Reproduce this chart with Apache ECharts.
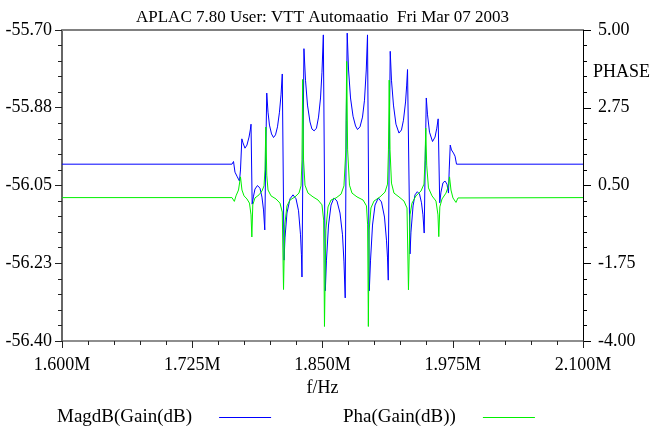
<!DOCTYPE html>
<html>
<head>
<meta charset="utf-8">
<script src="https://cdn.jsdelivr.net/npm/echarts@6/dist/echarts.min.js"></script>
<style>
html,body{margin:0;padding:0;background:#fff;}
#chart{width:658px;height:429px;}
</style>
</head>
<body>
<div id="chart"></div>
<script>
// ---- data (frequency in MHz, magnitude in dB, phase) ----
const magPoints = [
 [1.6000,-56.002],[1.7631,-56.002],[1.7646,-55.996],[1.7660,-56.020],[1.7679,-56.029],[1.7703,-56.040],[1.7713,-56.015],[1.7726,-55.945],[1.7737,-55.954],[1.7756,-55.966],
 [1.7775,-55.959],[1.7795,-55.941],[1.7807,-55.925],[1.7814,-55.912],[1.7825,-56.092],[1.7838,-56.074],[1.7852,-56.058],[1.7876,-56.050],[1.7900,-56.056],[1.7919,-56.076],
 [1.7934,-56.105],[1.7946,-56.150],[1.7956,-55.970],[1.7965,-55.842],[1.7977,-55.885],[1.7991,-55.914],[1.8011,-55.934],[1.8030,-55.942],[1.8049,-55.936],[1.8068,-55.918],
 [1.8087,-55.885],[1.8102,-55.846],[1.8114,-55.799],[1.8131,-56.218],[1.8140,-56.168],[1.8159,-56.112],[1.8188,-56.080],[1.8217,-56.071],[1.8246,-56.080],[1.8270,-56.107],
 [1.8289,-56.161],[1.8298,-56.206],[1.8303,-56.256],[1.8313,-55.970],[1.8322,-55.742],[1.8337,-55.813],[1.8356,-55.869],[1.8380,-55.907],[1.8399,-55.923],[1.8420,-55.927],
 [1.8442,-55.921],[1.8462,-55.896],[1.8481,-55.853],[1.8495,-55.795],[1.8508,-55.711],[1.8527,-56.287],[1.8538,-56.218],[1.8558,-56.139],[1.8582,-56.094],[1.8610,-56.078],
 [1.8639,-56.085],[1.8668,-56.112],[1.8692,-56.161],[1.8706,-56.222],[1.8718,-56.303],[1.8728,-55.903],[1.8737,-55.707],[1.8750,-55.790],[1.8769,-55.853],[1.8793,-55.894],
 [1.8817,-55.916],[1.8836,-55.924],[1.8860,-55.918],[1.8884,-55.896],[1.8903,-55.858],[1.8920,-55.790],[1.8932,-55.711],[1.8949,-56.287],[1.8961,-56.218],[1.8980,-56.139],
 [1.9004,-56.094],[1.9036,-56.078],[1.9066,-56.087],[1.9095,-56.121],[1.9114,-56.173],[1.9124,-56.213],[1.9131,-56.263],[1.9140,-55.970],[1.9150,-55.748],[1.9162,-55.813],
 [1.9181,-55.869],[1.9205,-55.912],[1.9234,-55.932],[1.9258,-55.925],[1.9277,-55.903],[1.9297,-55.862],[1.9308,-55.824],[1.9316,-55.789],[1.9340,-56.204],[1.9349,-56.155],
 [1.9369,-56.096],[1.9388,-56.071],[1.9410,-56.064],[1.9431,-56.069],[1.9450,-56.089],[1.9464,-56.116],[1.9476,-56.157],[1.9486,-55.993],[1.9496,-55.853],[1.9508,-55.891],
 [1.9527,-55.930],[1.9556,-55.951],[1.9580,-55.941],[1.9597,-55.921],[1.9610,-55.900],[1.9625,-56.089],[1.9637,-56.065],[1.9656,-56.044],[1.9676,-56.040],[1.9695,-56.047],
 [1.9709,-56.067],[1.9716,-56.015],[1.9726,-55.959],[1.9738,-55.970],[1.9757,-55.977],[1.9772,-55.984],[1.9786,-56.002],[2.1000,-56.002]
];
const phaPoints = [
 [1.6000,0.15],[1.7631,0.15],[1.7654,0.04],[1.7670,0.20],[1.7694,0.37],[1.7713,0.75],[1.7727,0.37],[1.7747,0.20],[1.7775,0.11],[1.7799,-0.01],
 [1.7814,-0.35],[1.7822,-0.99],[1.7831,-0.06],[1.7852,0.14],[1.7891,0.23],[1.7919,0.34],[1.7939,0.49],[1.7948,0.95],[1.7956,2.19],[1.7965,0.80],
 [1.7977,0.37],[1.8006,0.20],[1.8054,0.11],[1.8092,-0.01],[1.8114,-0.27],[1.8126,-2.51],[1.8138,-0.64],[1.8159,-0.09],[1.8188,0.08],[1.8236,0.17],
 [1.8274,0.28],[1.8294,0.49],[1.8303,1.24],[1.8310,3.57],[1.8318,1.24],[1.8332,0.51],[1.8361,0.28],[1.8409,0.17],[1.8457,0.08],[1.8495,-0.06],
 [1.8511,-0.50],[1.8519,-3.58],[1.8532,-0.79],[1.8553,-0.12],[1.8582,0.08],[1.8630,0.14],[1.8678,0.25],[1.8706,0.49],[1.8724,1.53],[1.8732,4.09],
 [1.8741,1.53],[1.8759,0.51],[1.8783,0.28],[1.8831,0.17],[1.8889,0.08],[1.8922,-0.09],[1.8933,-0.64],[1.8940,-3.58],[1.8948,-0.79],[1.8965,-0.15],
 [1.8994,0.05],[1.9052,0.17],[1.9100,0.31],[1.9124,0.54],[1.9133,1.53],[1.9140,3.55],[1.9148,1.53],[1.9162,0.57],[1.9186,0.28],[1.9234,0.17],
 [1.9282,0.05],[1.9311,-0.15],[1.9325,-2.52],[1.9340,-0.35],[1.9359,-0.01],[1.9397,0.20],[1.9445,0.34],[1.9474,0.54],[1.9484,1.24],[1.9491,2.16],
 [1.9500,1.09],[1.9517,0.43],[1.9551,0.20],[1.9589,0.05],[1.9608,-0.35],[1.9616,-0.98],[1.9626,-0.12],[1.9647,0.11],[1.9685,0.28],[1.9709,0.49],
 [1.9719,0.75],[1.9733,0.37],[1.9752,0.14],[1.9781,0.01],[1.9800,0.14],[2.1000,0.15]
];
const xTickLabels = ['1.600M','1.725M','1.850M','1.975M','2.100M'];
const magTickLabels = ['-56.40','-56.23','-56.05','-55.88','-55.70'];
const phaTickLabels = ['-4.00','-1.75','0.50','2.75','5.00'];
const seriesNames = ['MagdB(Gain(dB)','Pha(Gain(dB))'];
const seriesColors = ['#0000ff', '#00f000'];
const titleText = 'APLAC 7.80 User: VTT Automaatio  Fri Mar 07 2003';

const FONT = 'Liberation Serif';
const FS = 18;
function lab(arr, min, step) {
  return function (v) { const i = Math.round((v - min) / step); return arr[i] !== undefined ? arr[i] : ''; };
}
function legendFor(i, left) {
  return {left: left, top: 408, padding: 0, align: 'right', selectedMode: false,
    data: [{name: seriesNames[i], icon: 'rect', itemStyle: {color: seriesColors[i], borderWidth: 0}}],
    itemWidth: 52, itemHeight: 1.2,
    textStyle: {fontFamily: FONT, fontSize: 19, color: '#000', padding: [0, 22, 0, 0]}};
}

const chart = echarts.init(document.getElementById('chart'), null, {renderer: 'canvas'});
chart.setOption({
  animation: false,
  backgroundColor: '#ffffff',
  grid: {left: 62, right: 75, top: 30, bottom: 88, containLabel: false},
  graphic: [
    {type: 'text', x: 322.5, y: 18, style: {text: titleText, x: 0, y: 0, align: 'center', verticalAlign: 'middle', fill: '#000', font: '17px "' + FONT + '"'}},
    {type: 'text', x: 593, y: 72, style: {text: 'PHASE', x: 0, y: 0, align: 'left', verticalAlign: 'middle', fill: '#000', font: '18px "' + FONT + '"'}}
  ],
  legend: [legendFor(0, 57), legendFor(1, 343)],
  xAxis: [
    {type: 'value', position: 'bottom', min: 1.6, max: 2.1, interval: 0.125,
     name: 'f/Hz', nameLocation: 'middle', nameGap: 34, nameTextStyle: {fontFamily: FONT, fontSize: FS, color: '#000'},
     axisLine: {show: true, onZero: false, lineStyle: {color: '#6a6a6a', width: 1.5}},
     axisTick: {show: true, inside: false, length: 7, lineStyle: {color: '#222', width: 1}},
     minorTick: {show: true, splitNumber: 5, length: 4, lineStyle: {color: '#222', width: 1}},
     splitLine: {show: false}, minorSplitLine: {show: false},
     axisLabel: {margin: 15, color: '#000', fontFamily: FONT, fontSize: FS, formatter: lab(xTickLabels, 1.6, 0.125)}},
    {type: 'value', position: 'top', min: 1.6, max: 2.1,
     axisLine: {show: true, onZero: false, lineStyle: {color: '#808080', width: 2}},
     axisTick: {show: false}, axisLabel: {show: false}, splitLine: {show: false}}
  ],
  yAxis: [
    {type: 'value', position: 'left', min: -56.4, max: -55.7, interval: 0.175,
     axisLine: {show: true, onZero: false, lineStyle: {color: '#333', width: 1.5}},
     axisTick: {show: true, inside: false, length: 7, lineStyle: {color: '#222', width: 1}},
     minorTick: {show: true, splitNumber: 5, length: 4, lineStyle: {color: '#222', width: 1}},
     splitLine: {show: false}, minorSplitLine: {show: false},
     axisLabel: {margin: 10, color: '#000', fontFamily: FONT, fontSize: FS, formatter: lab(magTickLabels, -56.4, 0.175)}},
    {type: 'value', position: 'right', min: -4, max: 5, interval: 2.25,
     axisLine: {show: true, onZero: false, lineStyle: {color: '#000', width: 1}},
     axisTick: {show: true, inside: false, length: 8, lineStyle: {color: '#000', width: 1}},
     minorTick: {show: true, splitNumber: 5, length: 4, lineStyle: {color: '#000', width: 1}},
     splitLine: {show: false}, minorSplitLine: {show: false},
     axisLabel: {margin: 15, color: '#000', fontFamily: FONT, fontSize: FS, formatter: lab(phaTickLabels, -4, 2.25)}}
  ],
  series: [
    {name: seriesNames[0], type: 'line', xAxisIndex: 0, yAxisIndex: 0, data: magPoints, symbol: 'none', smooth: false,
     lineStyle: {color: seriesColors[0], width: 1}, itemStyle: {color: seriesColors[0]}, z: 2},
    {name: seriesNames[1], type: 'line', xAxisIndex: 0, yAxisIndex: 1, data: phaPoints, symbol: 'none', smooth: false,
     lineStyle: {color: seriesColors[1], width: 1}, itemStyle: {color: seriesColors[1]}, z: 3}
  ]
});
</script>
</body>
</html>
